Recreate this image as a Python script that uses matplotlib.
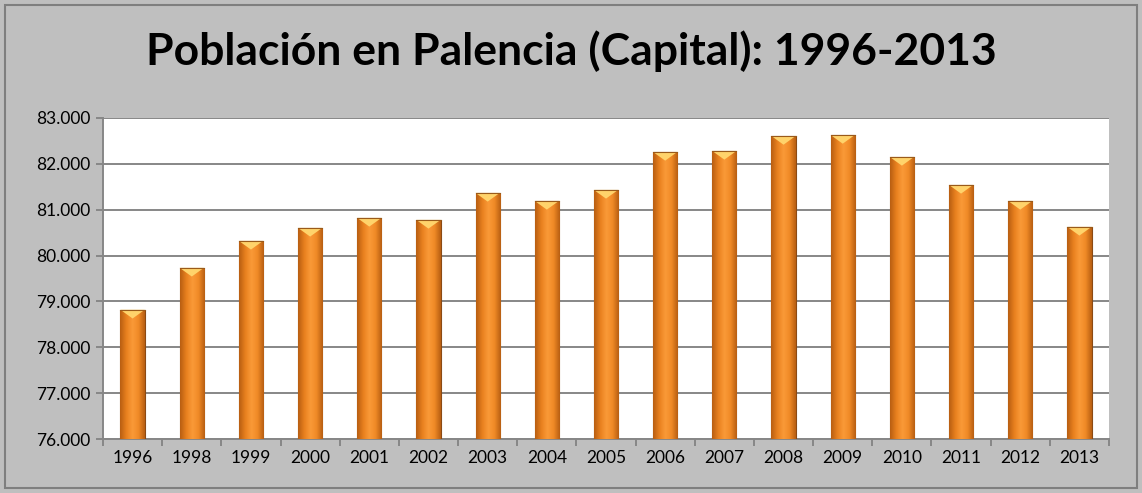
import numpy as np
import matplotlib.pyplot as plt
from matplotlib.colors import LinearSegmentedColormap
from matplotlib.ticker import FuncFormatter, FixedLocator

years = ["1996", "1998", "1999", "2000", "2001", "2002", "2003", "2004", "2005",
         "2006", "2007", "2008", "2009", "2010", "2011", "2012", "2013"]
poblacion = [78818, 79733, 80321, 80604, 80822, 80778, 81367, 81192, 81432,
             82260, 82282, 82608, 82630, 82151, 81541, 81192, 80626]

plt.rcParams["font.family"] = ["Lato", "DejaVu Sans"]

fig = plt.figure(figsize=(11.42, 4.93), dpi=100, facecolor="#BFBFBF")
# outer chart border
fig.patches.append(plt.Rectangle((5 / 1142, 5 / 493), 1132 / 1142, 483 / 493,
                                 transform=fig.transFigure, fill=False,
                                 edgecolor="#7F7F7F", linewidth=1.5))

ax = fig.add_axes([103 / 1142, 1 - 439 / 493, 1006 / 1142, 321 / 493])
ax.set_facecolor("white")

x = np.arange(len(years))
bars = ax.bar(x, poblacion, width=0.41, bottom=0, color="#F39230",
              edgecolor="#8B4A14", linewidth=0.8, zorder=3)

# horizontal shading inside each bar (dark edges, light centre)
cmap = LinearSegmentedColormap.from_list(
    "bar", ["#B85E12", "#E8801E", "#FA9A38", "#F08A26", "#B85E12"])
grad = np.linspace(0, 1, 64).reshape(1, -1)
for b in bars:
    x0, w, h = b.get_x(), b.get_width(), b.get_height()
    im = ax.imshow(grad, cmap=cmap, aspect="auto", zorder=3.5,
                   extent=[x0, x0 + w, 76000, h], interpolation="bicubic")
    im.set_clip_path(b)
    # light bevel triangle on top
    ax.fill([x0, x0 + w, x0 + w / 2], [h, h, h - 190], color="#FFD36B",
            zorder=4, linewidth=0)
    ax.plot([x0, x0 + w], [h, h], color="#9A5A1A", linewidth=0.8, zorder=4.5)

ax.set_ylim(76000, 83000)
ax.set_xlim(-0.5, len(years) - 0.5)
ax.yaxis.set_major_locator(FixedLocator(np.arange(76000, 83001, 1000)))
ax.yaxis.set_major_formatter(FuncFormatter(lambda v, p: f"{int(v):,}".replace(",", ".")))
ax.grid(axis="y", color="#878787", linewidth=1.4, zorder=1)
ax.set_xticks(x)
ax.set_xticklabels(years)
ax.set_xticks(np.arange(-0.5, len(years)), minor=True)
ax.tick_params(axis="x", which="major", length=0, labelsize=12.5, pad=8)
ax.tick_params(axis="x", which="minor", length=5, width=1.4, color="#878787")
ax.tick_params(axis="y", length=5, width=1.4, color="#878787", labelsize=12.5, pad=4)

for side in ["top", "right"]:
    ax.spines[side].set_visible(False)
for side in ["left", "bottom"]:
    ax.spines[side].set_color("#878787")
    ax.spines[side].set_linewidth(1.4)

fig.text(0.5, 1 - 51 / 493, "Población en Palencia (Capital): 1996-2013",
         ha="center", va="center", fontsize=32, fontweight="bold")

fig.savefig("out.png", dpi=100, facecolor=fig.get_facecolor())
